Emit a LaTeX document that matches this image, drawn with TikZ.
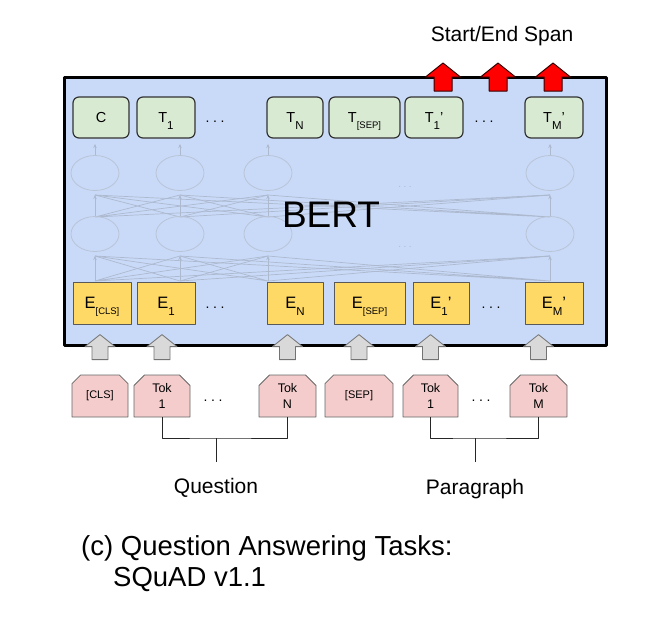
\documentclass[tikz,border=0pt]{standalone}
\usepackage{fontspec}
\setmainfont{Liberation Sans}
\usepackage{xcolor}
\usepackage{tikz}
\usetikzlibrary{shapes.misc,shapes.geometric,arrows.meta}

\newcommand{\lowsub}[1]{\raisebox{-7pt}{\fontsize{11.5}{11.5}\selectfont #1}}
\newcommand{\lowtag}[1]{\raisebox{-6pt}{\fontsize{9.5}{9.5}\selectfont #1}}
\newcommand{\rowdots}{.\kern3.6pt.\kern3.6pt.}

\begin{document}
\begin{tikzpicture}[x = {(1pt,0pt)},
                    y = {(0pt,-1pt)},
                    line join = round]

  \useasboundingbox (0,0) rectangle (668,624);

  % COLORS
  \definecolor{bertblue}{HTML}{C9DAF8}
  \definecolor{outgreen}{HTML}{D9EAD3}
  \definecolor{embyellow}{HTML}{FFD966}
  \definecolor{tokpink}{HTML}{F4CCCC}
  \definecolor{arrowgray}{HTML}{D9D9D9}
  \definecolor{meshgray}{HTML}{ADB9CF}
  \definecolor{spanred}{HTML}{FF0000}


  % STYLES
  \tikzstyle{framestyle} = [draw=black, line width=3pt, fill=bertblue, inner sep=0pt]
  \tikzstyle{outstyle} = [draw=black!80, line width=1.2pt, fill=outgreen, rounded corners=6pt, minimum height=41pt, inner sep=0pt, text height=10.4pt, text depth=0pt, font=\fontsize{14.5}{14.5}\selectfont]
  \tikzstyle{embstyle} = [draw=black!65, line width=1pt, fill=embyellow, minimum height=42pt, inner sep=0pt, text height=11.8pt, text depth=0pt, font=\fontsize{16.5}{16.5}\selectfont]
  \tikzstyle{tokstyle} = [chamfered rectangle, chamfered rectangle corners={north west,north east}, chamfered rectangle xsep=7pt, draw=black!60, line width=0.8pt, fill=tokpink, minimum height=42pt, inner sep=0pt, align=center, font=\fontsize{12.5}{15.5}\selectfont]
  \tikzstyle{dotstyle} = [inner sep=0pt, font=\fontsize{14}{14}\selectfont]
  \tikzstyle{meshstyle} = [draw=meshgray, line width=0.7pt]
  \tikzstyle{meshtip} = [meshstyle, -{Stealth[length=4pt,width=3.5pt]}]
  \tikzstyle{cellstyle} = [ellipse, draw=meshgray!85, line width=0.8pt, minimum width=48pt, minimum height=35pt, inner sep=0pt]
  \tikzstyle{bracestyle} = [draw=black!85, line width=0.9pt]
  \tikzstyle{labelstyle} = [font=\fontsize{21}{21}\selectfont, inner sep=0pt, anchor=base]
  \tikzstyle{captionstyle} = [font=\fontsize{27.5}{27.5}\selectfont, inner sep=0pt, anchor=base west]
  \tikzset{
    spanarrow/.pic = {\draw[fill=spanred, draw=black!80!red, line width=1pt] (-9,0) -- (-9,-14) -- (-17.5,-14) -- (0,-28) -- (17.5,-14) -- (9,-14) -- (9,0) -- cycle;},
    inarrow/.pic = {\draw[fill=arrowgray, draw=black!55, line width=0.8pt] (-8,0) -- (-8,-13) -- (-15,-13) -- (0,-25) -- (15,-13) -- (8,-13) -- (8,0) -- cycle;}
  }


  % FRAME
  \node[framestyle, minimum width=542pt, minimum height=268pt] (bertframe) at (335.5,211.5) {};


  % DEF POINTS
  \coordinate (s0_low) at (95, 281);
  \coordinate (s1_low) at (180, 281);
  \coordinate (s2_low) at (268, 281);
  \coordinate (s3_low) at (550, 281);
  \coordinate (t0_low) at (95, 256);
  \coordinate (t1_low) at (180, 256);
  \coordinate (t2_low) at (268, 256);
  \coordinate (t3_low) at (550, 256);
  \coordinate (s0_up) at (95, 217);
  \coordinate (s1_up) at (180, 217);
  \coordinate (s2_up) at (268, 217);
  \coordinate (s3_up) at (550, 217);
  \coordinate (t0_up) at (95, 195);
  \coordinate (t1_up) at (180, 195);
  \coordinate (t2_up) at (268, 195);
  \coordinate (t3_up) at (550, 195);
  \coordinate (r0_up) at (95, 144);
  \coordinate (r1_up) at (180, 144);
  \coordinate (r2_up) at (268, 144);
  \coordinate (r3_up) at (550, 144);


  % MESH
  \draw[meshstyle] (s0_low) -- (t1_low) (s0_low) -- (t2_low) (s0_low) -- (t3_low);
  \draw[meshstyle] (s1_low) -- (t0_low) (s1_low) -- (t2_low) (s1_low) -- (t3_low);
  \draw[meshstyle] (s2_low) -- (t0_low) (s2_low) -- (t1_low) (s2_low) -- (t3_low);
  \draw[meshstyle] (s3_low) -- (t0_low) (s3_low) -- (t1_low) (s3_low) -- (t2_low);
  \draw[meshstyle] (s0_up) -- (t1_up) (s0_up) -- (t2_up) (s0_up) -- (t3_up);
  \draw[meshstyle] (s1_up) -- (t0_up) (s1_up) -- (t2_up) (s1_up) -- (t3_up);
  \draw[meshstyle] (s2_up) -- (t0_up) (s2_up) -- (t1_up) (s2_up) -- (t3_up);
  \draw[meshstyle] (s3_up) -- (t0_up) (s3_up) -- (t1_up) (s3_up) -- (t2_up);
  \draw[meshtip] (s0_low) -- (t0_low);
  \draw[meshtip] (s1_low) -- (t1_low);
  \draw[meshtip] (s2_low) -- (t2_low);
  \draw[meshtip] (s3_low) -- (t3_low);
  \draw[meshtip] (s0_up) -- (t0_up);
  \draw[meshtip] (s1_up) -- (t1_up);
  \draw[meshtip] (s2_up) -- (t2_up);
  \draw[meshtip] (s3_up) -- (t3_up);


  % CELLS
  \node[cellstyle] (h0_low) at (95, 234) {};
  \node[cellstyle] (h1_low) at (180, 234) {};
  \node[cellstyle] (h2_low) at (268, 234) {};
  \node[cellstyle] (h3_low) at (550, 234) {};
  \node[cellstyle] (h0_up) at (95, 173) {};
  \node[cellstyle] (h1_up) at (180, 173) {};
  \node[cellstyle] (h2_up) at (268, 173) {};
  \node[cellstyle] (h3_up) at (550, 173) {};
  \draw[meshtip] (h0_up.north) -- (r0_up);
  \draw[meshtip] (h1_up.north) -- (r1_up);
  \draw[meshtip] (h2_up.north) -- (r2_up);
  \draw[meshtip] (h3_up.north) -- (r3_up);
  \node[dotstyle, text=meshgray, font=\fontsize{10}{10}\selectfont] (dots_up) at (405, 187) {.\kern2.5pt.\kern2.5pt.};
  \node[dotstyle, text=meshgray, font=\fontsize{10}{10}\selectfont] (dots_low) at (405, 247) {.\kern2.5pt.\kern2.5pt.};


  % LABEL
  \node[font=\fontsize{37}{37}\selectfont, inner sep=0pt, anchor=base] (bertlabel) at (331, 227) {BERT};


  % OUTPUTS
  \node[outstyle, minimum width=56pt] (out_c) at (101, 117.5) {C};
  \node[outstyle, minimum width=58pt] (out_1) at (166, 117.5) {T\lowsub{1}};
  \node[dotstyle, anchor=base] (out_dots) at (215, 122) {\rowdots};
  \node[outstyle, minimum width=56pt] (out_n) at (295, 117.5) {T\lowsub{N}};
  \node[outstyle, minimum width=71pt] (out_sep) at (364.5, 117.5) {T\lowtag{[SEP]}};
  \node[outstyle, minimum width=58pt] (out_1p) at (434, 117.5) {T\lowsub{1}'};
  \node[dotstyle, anchor=base] (out_dotsp) at (484, 122) {\rowdots};
  \node[outstyle, minimum width=58pt] (out_mp) at (554, 117.5) {T\lowsub{M}'};


  % EMBEDDINGS
  \node[embstyle, minimum width=58pt] (emb_cls) at (102, 303) {E\lowtag{[CLS]}};
  \node[embstyle, minimum width=58pt] (emb_1) at (166, 303) {E\lowsub{1}};
  \node[dotstyle, anchor=base] (emb_dots) at (215, 308) {\rowdots};
  \node[embstyle, minimum width=56pt] (emb_n) at (295, 303) {E\lowsub{N}};
  \node[embstyle, minimum width=71pt] (emb_sep) at (369.5, 303) {E\lowtag{[SEP]}};
  \node[embstyle, minimum width=56pt] (emb_1p) at (441, 303) {E\lowsub{1}'};
  \node[dotstyle, anchor=base] (emb_dotsp) at (491, 308) {\rowdots};
  \node[embstyle, minimum width=58pt] (emb_mp) at (554, 303) {E\lowsub{M}'};


  % SPAN ARROWS
  \pic at (443, 91) {spanarrow};
  \pic at (498, 91) {spanarrow};
  \pic at (553, 91) {spanarrow};
  \node[labelstyle] (spanlabel) at (502, 41) {Start/End Span};


  % TOKENS
  \node[tokstyle, minimum width=56pt, font=\fontsize{11}{12}\selectfont] (tok_cls) at (100, 396) {[CLS]};
  \node[tokstyle, minimum width=56pt] (tok_1) at (162, 396) {Tok\\1};
  \node[dotstyle, anchor=base] (tok_dots) at (213, 401) {\rowdots};
  \node[tokstyle, minimum width=57pt] (tok_n) at (287.5, 396) {Tok\\N};
  \node[tokstyle, minimum width=68pt, font=\fontsize{11}{12}\selectfont] (tok_sep) at (359, 396) {[SEP]};
  \node[tokstyle, minimum width=55pt] (tok_1p) at (430.5, 396) {Tok\\1};
  \node[dotstyle, anchor=base] (tok_dotsp) at (481, 401) {\rowdots};
  \node[tokstyle, minimum width=57pt] (tok_m) at (538.5, 396) {Tok\\M};


  % INPUT ARROWS
  \pic at ([yshift=15pt]tok_cls.north) {inarrow};
  \pic at ([yshift=15pt]tok_1.north) {inarrow};
  \pic at ([yshift=15pt]tok_n.north) {inarrow};
  \pic at ([yshift=15pt]tok_sep.north) {inarrow};
  \pic at ([yshift=15pt]tok_1p.north) {inarrow};
  \pic at ([yshift=15pt]tok_m.north) {inarrow};


  % SEGMENTS
  \coordinate (q_join) at (216, 438);
  \coordinate (q_foot) at (216, 462);
  \coordinate (p_join) at (475, 438);
  \coordinate (p_foot) at (475, 462);
  \draw[bracestyle] (tok_1.south) |- (q_join) -| (tok_n.south);
  \draw[bracestyle] (q_join) -- (q_foot);
  \draw[bracestyle] (tok_1p.south) |- (p_join) -| (tok_m.south);
  \draw[bracestyle] (p_join) -- (p_foot);
  \node[labelstyle] (question) at (216, 493) {Question};
  \node[labelstyle] (paragraph) at (475, 494) {Paragraph};


  % CAPTION
  \node[captionstyle] (caption_a) at (81, 555) {(c) Question Answering Tasks:};
  \node[captionstyle] (caption_b) at (113, 586) {SQuAD v1.1};

\end{tikzpicture}
\end{document}
